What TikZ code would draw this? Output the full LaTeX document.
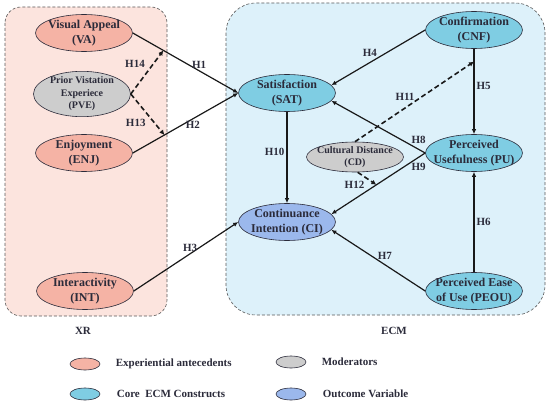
\documentclass[tikz,border=0pt]{standalone}
\usepackage{fontspec}
\setmainfont{Liberation Serif}
\usetikzlibrary{shapes.geometric, arrows.meta, positioning}
\definecolor{xrbg}{HTML}{FCE4DE}
\definecolor{ecmbg}{HTML}{DDF1FA}
\definecolor{antefill}{HTML}{F5B3A5}
\definecolor{modfill}{HTML}{CDCDCD}
\definecolor{corefill}{HTML}{7FCDE3}
\definecolor{outfill}{HTML}{9BB8EC}
\definecolor{edgecol}{HTML}{2B2B3A}
\tikzset{
  construct/.style = {ellipse, draw=edgecol, semithick, align=center, inner xsep=-7pt, inner ysep=-1pt, minimum width=97pt, minimum height=37pt, text=edgecol, font=\fontsize{12}{15}\selectfont\bfseries},
  antecedent/.style = {construct, fill=antefill},
  moderator/.style = {construct, fill=modfill, font=\fontsize{10}{12.5}\selectfont\bfseries},
  core/.style = {construct, fill=corefill},
  outcome/.style = {construct, fill=outfill},
  groupbox/.style = {draw=black!65, semithick, dash pattern=on 3pt off 2pt},
  line/.style = {-{Latex[length=5pt,width=4.5pt]}, line width=1.2pt, draw=black!90},
  modline/.style = {-{Latex[length=5pt,width=5pt]}, line width=1.6pt, dash pattern=on 5pt off 3pt, draw=black!90},
  hyp/.style = {font=\fontsize{11}{13}\selectfont\bfseries, text=edgecol, inner sep=2pt},
  legendkey/.style = {ellipse, draw=edgecol, semithick, minimum width=30pt, minimum height=12pt, inner sep=0pt},
  legendtext/.style = {anchor=west, text=edgecol, font=\fontsize{11}{13}\selectfont\bfseries}
}
\begin{document}
\begin{tikzpicture}[x=1pt, y=-1pt]
\useasboundingbox (0,0) rectangle (550,404);

% Group boxes
\draw[groupbox, fill=xrbg, rounded corners=16pt] (5,7) rectangle (167,316);
\draw[groupbox, fill=ecmbg, rounded corners=30pt] (226,3) rectangle (545,315);
\node[hyp] (xrlabel) at (83,331) {XR};
\node[hyp] (ecmlabel) at (394,331) {ECM};

% XR constructs
\node[antecedent] (va) at (84,33) {Visual Appeal\\(VA)};
\node[moderator, minimum height=44pt] (pve) at (82,94) {Prior Vistation\\Experiece\\(PVE)};
\node[antecedent] (enj) at (84,153) {Enjoyment\\(ENJ)};
\node[antecedent] (int) at (85,291) {Interactivity\\(INT)};

% ECM constructs
\node[core] (sat) at (287,93) {Satisfaction\\(SAT)};
\node[core] (cnf) at (474,30) {Confirmation\\(CNF)};
\node[core] (pu) at (474,153) {Perceived\\Usefulness (PU)};
\node[moderator, minimum height=30pt] (cd) at (355,157) {Cultural Distance\\(CD)};
\node[outcome] (ci) at (287,222) {Continuance\\Intention (CI)};
\node[core] (peou) at (474,291) {Perceived Ease\\of Use (PEOU)};

% Hypotheses
\draw[line] (va.east) -- coordinate[pos=0.29] (h14end) node[hyp, pos=0.63, above] {H1} (sat.west);
\draw[line] (enj.east) -- coordinate[pos=0.3] (h13end) node[hyp, pos=0.57, below] {H2} (sat.west);
\draw[line] (int.east) -- node[hyp, pos=0.54, above] {H3} (ci.west);
\draw[line] (cnf.west) -- node[hyp, pos=0.59, above=3pt] {H4} (sat.10);
\draw[line] (cnf.south) -- coordinate[pos=0.15] (h11end) node[hyp, pos=0.43, right] {H5} (pu.north);
\draw[line] (peou.north) -- node[hyp, pos=0.5, right] {H6} (pu.south);
\draw[line] (peou.west) -- node[hyp, pos=0.43, above=3pt] {H7} (ci.-10);
\draw[line] (pu.west) -- node[hyp, pos=0.07, above=3pt] {H8} (sat.-10);
\draw[line] (pu.west) -- coordinate[pos=0.52] (h12end) node[hyp, pos=0.07, below=3pt] {H9} (ci.10);
\draw[line] (sat.south) -- node[hyp, pos=0.44, left] {H10} (ci.north);

% Moderating effects
\draw[modline] (cd.north) -- node[hyp, pos=0.42, above=5pt] {H11} (h11end);
\draw[modline] (cd.-80) -- node[hyp, pos=0.5, below left] {H12} (h12end);
\draw[modline] (pve.east) -- node[hyp, pos=0.7, left=6pt] {H13} (h13end);
\draw[modline] (pve.east) -- node[hyp, pos=0.7, left=6pt] {H14} (h14end);

% Legend
\node[legendkey, fill=antefill] (keyante) at (85,364) {};
\node[legendtext, right=12pt of keyante] (txtante) {Experiential antecedents};
\node[legendkey, fill=modfill] (keymod) at (291,362) {};
\node[legendtext, right=12pt of keymod] (txtmod) {Moderators};
\node[legendkey, fill=corefill] (keycore) at (85,394) {};
\node[legendtext, right=13pt of keycore] (txtcore) {Core \ ECM Constructs};
\node[legendkey, fill=outfill] (keyout) at (291,394) {};
\node[legendtext, right=13pt of keyout] (txtout) {Outcome Variable};
\end{tikzpicture}
\end{document}
